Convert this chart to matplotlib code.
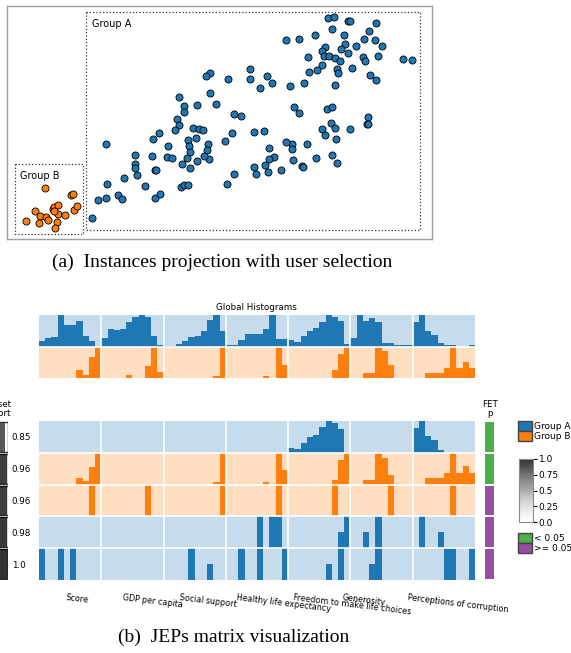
import numpy as np
import matplotlib.pyplot as plt
from matplotlib.patches import Rectangle, Patch
from matplotlib import cm, colors

W, H = 571, 653

# projection coordinates (screen-like, y grows downwards)
group_a = [(985,53),(1003,52),(1045,63),(1052,63),(1128,68),(998,88),(1107,94),(1033,105),(947,106),
           (860,119),(898,116),(1093,116),(1126,121),(1035,133),(1148,137),(1069,138),(977,140),(1025,147),
           (966,152),(1045,158),(973,169),(988,167),(1005,175),(1021,182),(924,172),(1090,170),(1097,182),
           (1134,167),(1210,176),(1238,181),(968,194),(952,211),(927,216),(1057,205),(1013,208),(1015,220),
           (1110,225),(1129,240),(1005,256),(912,250),(872,257),(818,248),(803,229),(780,263),(752,206),
           (752,236),(685,236),(632,218),(619,229),(630,280),(648,312),(539,290),(553,318),(552,336),
           (591,314),(533,357),(539,375),(527,390),(581,385),(598,387),(609,390),(589,414),(566,421),
           (625,433),(621,449),(567,438),(570,456),(562,475),(628,478),(614,468),(591,483),(547,491),
           (571,504),(703,343),(723,348),(697,400),(675,423),(762,397),(792,392),(807,443),(823,471),
           (808,476),(797,495),(762,501),(770,522),(805,515),(843,509),(880,480),(876,432),(878,448),
           (858,426),(922,433),(908,497),(909,502),(950,473),(884,322),(897,339),(982,326),(996,322),
           (993,369),(966,388),(1007,384),(975,406),(1010,418),(997,465),(1011,489),(1052,386),(1105,352),
           (1103,371),(1106,372),(703,521),(681,551),(479,399),(459,416),(505,437),(320,432),(407,466),
           (458,469),(503,471),(516,474),(405,492),(406,503),(465,509),(469,509),(412,525),(373,533),
           (323,552),(435,558),(543,560),(552,555),(566,556),(467,593),(480,583),(356,584),(368,598),
           (319,595),(295,601),(278,653)]
group_b = [(137,565),(214,585),(220,583),(107,633),(122,647),(138,650),(160,628),(163,621),(176,615),
           (174,643),(145,661),(80,662),(117,669),(173,665),(196,645),(222,629),(233,617),(166,685),(162,632)]

features = ['Score', 'GDP per capita', 'Social support', 'Healthy life expectancy',
            'Freedom to make life choices', 'Generosity', 'Perceptions of corruption']
n_bins = 10

global_a = [[0.16, 0.28, 0.3, 1.0, 0.68, 0.68, 0.82, 0.32, 0.17, 0],
            [0.28, 0.56, 0.53, 0.56, 0.77, 0.95, 1.0, 0.95, 0.32, 0.05],
            [0.03, 0.03, 0.08, 0.16, 0.3, 0.32, 0.5, 0.84, 1.0, 0.5],
            [0.05, 0.05, 0.2, 0.4, 0.4, 0.41, 0.56, 1.0, 0.24, 0.24],
            [0.2, 0.14, 0.32, 0.5, 0.58, 0.79, 1.0, 0.94, 0.82, 0.07],
            [0.27, 1.0, 0.82, 0.9, 0.79, 0.11, 0.11, 0.05, 0.04, 0.04],
            [0.78, 1.0, 0.5, 0.35, 0.1, 0.04, 0.04, 0, 0, 0.04]]
global_b = [[0, 0, 0, 0, 0, 0, 0.24, 0.11, 0.67, 1.0],
            [0, 0, 0, 0, 0.1, 0, 0, 0.38, 1.0, 0.2],
            [0, 0, 0, 0, 0, 0, 0, 0, 0.07, 1.0],
            [0, 0, 0, 0, 0, 0, 0.07, 0, 1.0, 0.42],
            [0, 0, 0, 0, 0, 0, 0, 0.24, 0.76, 1.0],
            [0, 0, 0.15, 0.15, 1.0, 0.85, 0.42, 0, 0, 0],
            [0, 0, 0.17, 0.17, 0.17, 0.33, 1.0, 0.33, 0.5, 0.33]]

z = [0] * 10
jep_groups = ['A', 'B', 'B', 'A', 'A']
jep_support = [0.85, 0.96, 0.96, 0.98, 1.0]
jep_fet = ['< 0.05', '< 0.05', '>= 0.05', '>= 0.05', '>= 0.05']
jep_hists = [
    [z, z, z, z,
     [0.16, 0.13, 0.31, 0.5, 0.57, 0.8, 1.0, 0.94, 0.75, 0], z,
     [0.78, 1.0, 0.52, 0.39, 0.08, 0, 0, 0, 0, 0]],
    [[0, 0, 0, 0, 0, 0, 0.22, 0.11, 0.56, 1.0], z,
     [0, 0, 0, 0, 0, 0, 0, 0, 0.07, 1.0],
     [0, 0, 0, 0, 0, 0, 0.07, 0, 1.0, 0.45],
     [0, 0, 0, 0, 0, 0, 0, 0.13, 0.76, 1.0],
     [0, 0, 0.16, 0.16, 1.0, 0.84, 0.29, 0, 0, 0],
     [0, 0, 0.2, 0.2, 0.2, 0.38, 1.0, 0.38, 0.58, 0.38]],
    [[0, 0, 0, 0, 0, 0, 0, 0, 1, 0],
     [0, 0, 0, 0, 0, 0, 0, 1, 0, 0],
     [0, 0, 0, 0, 0, 0, 0, 0, 0, 1],
     [0, 0, 0, 0, 0, 0, 0, 0, 1, 0],
     [0, 0, 0, 0, 0, 0, 0, 1, 0, 0],
     [0, 0, 0, 0, 0, 0, 1, 0, 0, 0],
     [0, 0, 0, 0, 0, 0, 1, 0, 0, 0]],
    [z, z, z,
     [0, 0, 0, 0, 0, 1, 0, 1, 1, 0],
     [0, 0, 0, 0, 0, 0, 0, 0, 0.5, 1.0],
     [0, 0, 0.5, 0, 1.0, 0, 0, 0, 0, 0],
     [0, 1.0, 0, 0, 0.5, 0, 0, 0, 0, 0]],
    [[1, 0, 0, 1, 0, 1, 0, 0, 0, 0], z,
     [0, 0, 0, 0, 1, 0, 0, 0.5, 0, 0],
     [0, 0, 1, 0, 0, 1, 0, 0, 0, 1],
     [0, 0, 0, 0, 0, 0, 0.5, 0, 1, 0],
     [0, 0, 0, 0.5, 1, 0, 0, 0, 0, 0],
     [0, 0, 0, 0, 0, 1, 1, 0, 0, 1]],
]

# x positions (px) where the rotated feature labels start
label_x = [65, 122, 179, 236, 293, 342, 407]

fg = {'A': '#1f77b4', 'B': '#ff7f0e'}
bg = {'A': '#c6dcec', 'B': '#ffdec2'}
fet_col = {'< 0.05': '#4daf4a', '>= 0.05': '#984ea3'}


def box(l, t, r, b):
    return [l / W, 1 - b / H, (r - l) / W, (b - t) / H]


def hist_rows(ax, rows, groups):
    n = len(rows)
    for r, (hists, g) in enumerate(zip(rows, groups)):
        y0 = n - 1 - r
        ax.axhspan(y0, y0 + 1, color=bg[g], lw=0)
        vals = np.concatenate(hists)
        ax.bar(np.arange(len(vals)), vals, bottom=y0, width=1, align='edge', color=fg[g], lw=0)
    for k in range(1, len(features)):
        ax.axvline(k * n_bins, color='white', lw=1.2)
    for r in range(1, n):
        ax.axhline(r, color='white', lw=1.2)
    ax.set_xlim(0, len(features) * n_bins)
    ax.set_ylim(0, n)
    ax.axis('off')


fig = plt.figure(figsize=(W / 100, H / 100), dpi=100)

# (a) projection
ax = fig.add_axes(box(7, 6, 432, 239))
xa, ya = zip(*group_a)
xb, yb = zip(*group_b)
ax.scatter(xa, ya, s=26, color=fg['A'], edgecolor='black', lw=0.6, zorder=3)
ax.scatter(xb, yb, s=26, color=fg['B'], edgecolor='black', lw=0.6, zorder=3)
ax.add_patch(Rectangle((260, 36), 1000, 654, fill=False, ls=':', lw=0.9, ec='#333333'))
ax.add_patch(Rectangle((45, 493), 205, 209, fill=False, ls=':', lw=0.9, ec='#333333'))
ax.text(277, 72, 'Group A', fontsize=7, va='center')
ax.text(62, 527, 'Group B', fontsize=7, va='center')
ax.set_xlim(22, 1297)
ax.set_ylim(717, 18)
ax.set_xticks([])
ax.set_yticks([])
for s in ax.spines.values():
    s.set_color('#a0a0a0')
    s.set_linewidth(1.0)

fig.text(52 / W, 1 - 267 / H, '(a)  Instances projection with user selection',
         family='Liberation Serif', fontsize=14, va='baseline')

# (b) global histograms
axg = fig.add_axes(box(39, 315, 475, 378))
hist_rows(axg, [global_a, global_b], ['A', 'B'])
fig.text(256 / W, 1 - 307 / H, 'Global Histograms', fontsize=6.3, ha='center', va='center')

# JEPs matrix
axm = fig.add_axes(box(39, 421, 475, 580))
hist_rows(axm, jep_hists, jep_groups)

cmap = plt.get_cmap('Greys')
axs = fig.add_axes(box(-9, 421, 7.5, 580))
ys = np.arange(len(jep_support))[::-1] + 0.5
axs.barh(ys, [1] * len(ys), height=0.94, color='white', edgecolor='#333333', lw=1)
axs.barh(ys, jep_support, height=0.94, color=[cmap(v) for v in jep_support], alpha=0.8, lw=0)
axs.set_xlim(0, 1)
axs.set_ylim(0, len(ys))
axs.set_yticks(ys)
axs.set_yticklabels([str(v) for v in jep_support], fontsize=6.3)
axs.yaxis.tick_right()
axs.tick_params(axis='y', length=0, pad=3)
axs.set_xticks([])
for s in axs.spines.values():
    s.set_visible(False)
fig.text(11 / W, 1 - 409 / H, 'Itemset\nsupport', fontsize=6.3, ha='right', va='center',
         multialignment='center', linespacing=1.1)

axf = fig.add_axes(box(485, 421, 494, 580))
axf.barh(ys, [1] * len(ys), height=0.94, color=[fet_col[p] for p in jep_fet], lw=0)
axf.set_xlim(0, 1)
axf.set_ylim(0, len(ys))
axf.axis('off')
fig.text(490 / W, 1 - 409 / H, 'FET\np', fontsize=6.3, ha='center', va='center', linespacing=1.1)

for name, x0 in zip(features, label_x):
    fig.text(x0 / W, 1 - 600 / H, name, fontsize=5.8, rotation=-7, rotation_mode='anchor',
             ha='left', va='baseline')

fig.legend(handles=[Patch(facecolor=fg['A'], edgecolor='#444444', label='Group A'),
                    Patch(facecolor=fg['B'], edgecolor='#444444', label='Group B')],
           loc='upper left', bbox_to_anchor=(518 / W, 1 - 421 / H), frameon=False, fontsize=6.5,
           handlelength=1.5, handleheight=1.3, handletextpad=0.25, labelspacing=0.05,
           borderpad=0, borderaxespad=0)
fig.legend(handles=[Patch(facecolor=fet_col['< 0.05'], edgecolor='#444444', label='< 0.05'),
                    Patch(facecolor=fet_col['>= 0.05'], edgecolor='#444444', label='>= 0.05')],
           loc='upper left', bbox_to_anchor=(518 / W, 1 - 533 / H), frameon=False, fontsize=6.5,
           handlelength=1.5, handleheight=1.3, handletextpad=0.25, labelspacing=0.05,
           borderpad=0, borderaxespad=0)

cax = fig.add_axes(box(519, 459, 533, 522))
sm = cm.ScalarMappable(norm=colors.Normalize(0, 1), cmap=cmap)
cb = fig.colorbar(sm, cax=cax, ticks=[0, 0.25, 0.5, 0.75, 1.0], alpha=0.8)
cb.ax.set_yticklabels(['0.0', '0.25', '0.5', '0.75', '1.0'], fontsize=6.5)
cb.ax.tick_params(length=3, width=0.8, pad=1)
cb.outline.set_edgecolor('#888888')

fig.text(118 / W, 1 - 642 / H, '(b)  JEPs matrix visualization',
         family='Liberation Serif', fontsize=14, va='baseline')

fig.savefig('out.png', dpi=100)
